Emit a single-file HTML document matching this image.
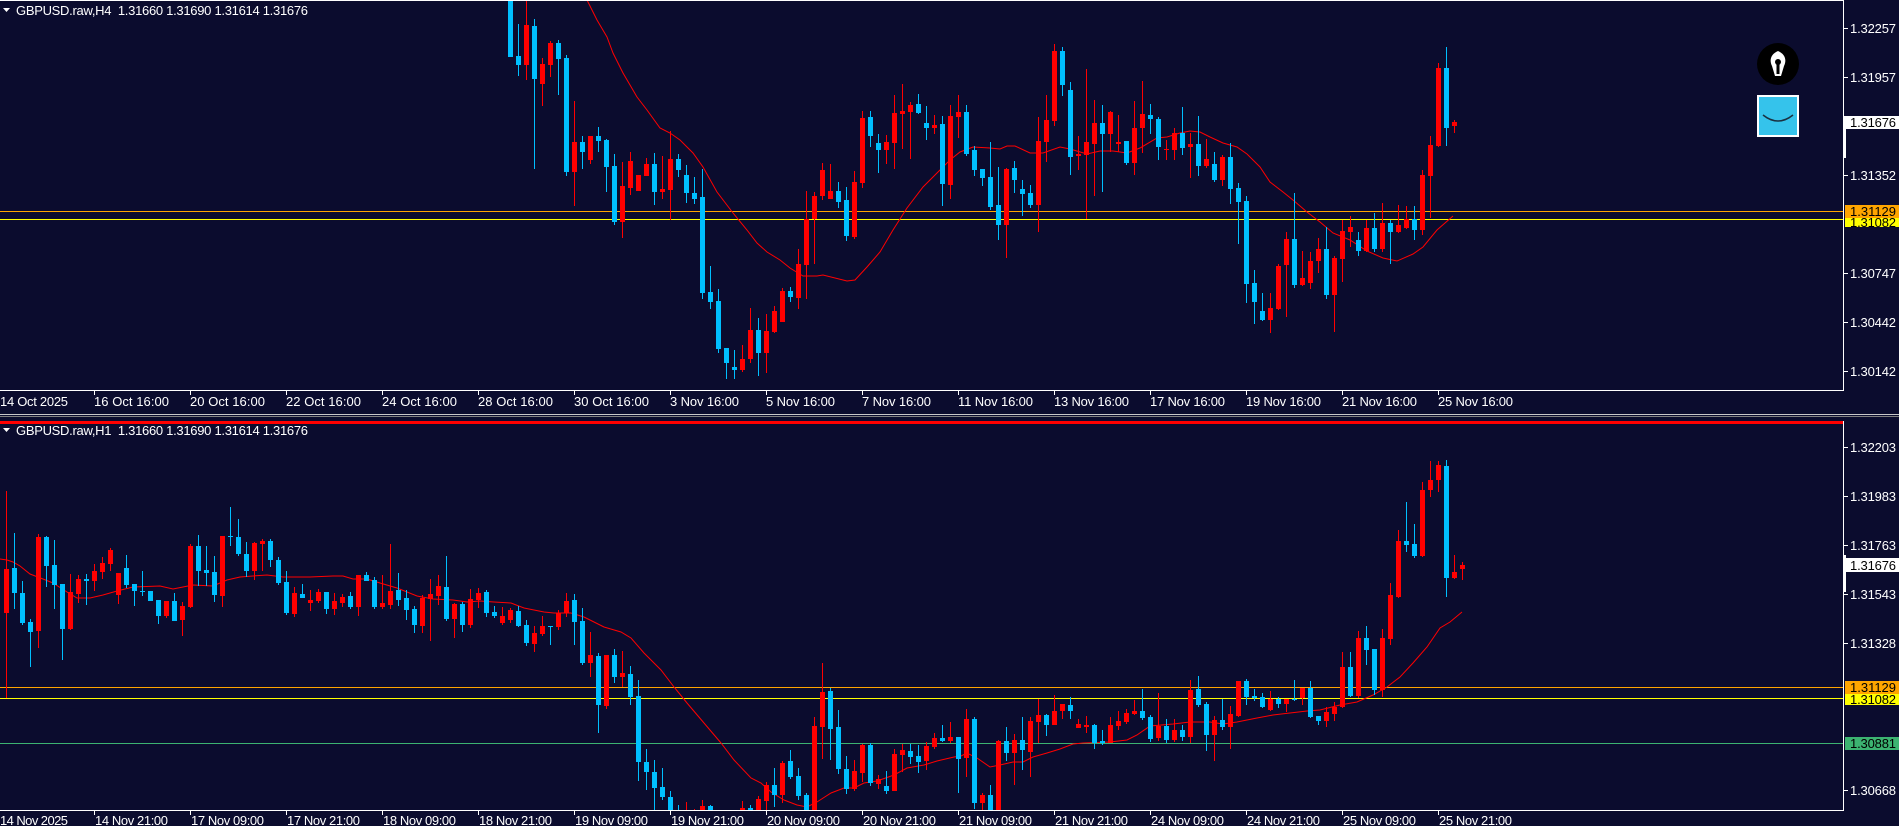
<!DOCTYPE html>
<html><head><meta charset="utf-8">
<style>
html,body{margin:0;padding:0;background:#0b0c2e;overflow:hidden}
svg{display:block}
text{font-family:"Liberation Sans",sans-serif;font-size:13px;fill:#ffffff}
</style></head>
<body>
<svg id="s" width="1899" height="826" xmlns="http://www.w3.org/2000/svg">
<rect x="0" y="0" width="1899" height="826" fill="#0b0c2e"/>
<defs>
<clipPath id="c1"><rect x="0" y="1" width="1843" height="389"/></clipPath>
<clipPath id="c2"><rect x="0" y="424" width="1843" height="386"/></clipPath>
</defs>
<rect x="0" y="0" width="1843" height="1" fill="#ffffff"/>
<rect x="0" y="390" width="1844" height="1" fill="#ffffff"/>
<rect x="1843" y="0" width="1" height="391" fill="#ffffff"/>
<rect x="0" y="414" width="1899" height="1" fill="#c8c8c8"/>
<rect x="0" y="416" width="1899" height="1" fill="#808080"/>
<rect x="0" y="421" width="1843" height="3" fill="#ff0000"/>
<rect x="1843" y="421" width="1" height="390" fill="#ffffff"/>
<rect x="0" y="810" width="1844" height="1" fill="#ffffff"/>

<rect x="0" y="211" width="1843" height="1" fill="#ffa500"/>
<rect x="0" y="219" width="1843" height="1" fill="#ffff00"/>
<rect x="0" y="687" width="1843" height="1" fill="#ffa500"/>
<rect x="0" y="698" width="1843" height="1" fill="#ffff00"/>
<rect x="0" y="743" width="1843" height="1" fill="#3cb371"/>

<g id="g1" clip-path="url(#c1)"></g>
<g id="g2" clip-path="url(#c2)"></g>

<polygon points="3,8 10,8 6.5,12" fill="#ffffff"/>
<text x="16" y="15" textLength="292">GBPUSD.raw,H4&#160;&#160;1.31660 1.31690 1.31614 1.31676</text>
<polygon points="3,428 10,428 6.5,432" fill="#ffffff"/>
<text x="16" y="435" textLength="292">GBPUSD.raw,H1&#160;&#160;1.31660 1.31690 1.31614 1.31676</text>

<g fill="#ffffff">
<rect x="1844" y="28" width="4" height="1"/><rect x="1844" y="77" width="4" height="1"/>
<rect x="1844" y="175" width="4" height="1"/><rect x="1844" y="273" width="4" height="1"/>
<rect x="1844" y="322" width="4" height="1"/><rect x="1844" y="371" width="4" height="1"/>
<rect x="1844" y="447" width="4" height="1"/><rect x="1844" y="496" width="4" height="1"/>
<rect x="1844" y="545" width="4" height="1"/><rect x="1844" y="594" width="4" height="1"/>
<rect x="1844" y="643" width="4" height="1"/><rect x="1844" y="790" width="4" height="1"/>
</g>
<text x="1850" y="33" textLength="46">1.32257</text>
<text x="1850" y="82" textLength="46">1.31957</text>
<text x="1850" y="180" textLength="46">1.31352</text>
<text x="1850" y="278" textLength="46">1.30747</text>
<text x="1850" y="327" textLength="46">1.30442</text>
<text x="1850" y="376" textLength="46">1.30142</text>
<rect x="1843" y="116" width="56" height="13" fill="#ffffff"/>
<rect x="1843" y="116" width="3" height="42" fill="#ffffff"/>
<text x="1850" y="127" textLength="46" style="fill:#000">1.31676</text>
<rect x="1845" y="205" width="54" height="13" fill="#ffa500"/>
<text x="1850" y="216" textLength="46" style="fill:#000">1.31129</text>
<rect x="1845" y="218" width="54" height="9" fill="#ffff00"/>
<text x="1850" y="227" textLength="46" style="fill:#000">1.31082</text>

<text x="1850" y="452" textLength="46">1.32203</text>
<text x="1850" y="501" textLength="46">1.31983</text>
<text x="1850" y="550" textLength="46">1.31763</text>
<text x="1850" y="599" textLength="46">1.31543</text>
<text x="1850" y="648" textLength="46">1.31328</text>
<text x="1850" y="795" textLength="46">1.30668</text>
<rect x="1843" y="558" width="56" height="14" fill="#ffffff"/>
<rect x="1843" y="555" width="3" height="37" fill="#ffffff"/>
<text x="1850" y="570" textLength="46" style="fill:#000">1.31676</text>
<rect x="1845" y="681" width="54" height="13" fill="#ffa500"/>
<text x="1850" y="692" textLength="46" style="fill:#000">1.31129</text>
<rect x="1845" y="694" width="54" height="11" fill="#ffff00"/>
<text x="1850" y="704" textLength="46" style="fill:#000">1.31082</text>
<rect x="1845" y="737" width="54" height="13" fill="#3cb371"/>
<text x="1850" y="748" textLength="46" style="fill:#000">1.30881</text>

<g fill="#ffffff">
<rect x="94" y="391" width="1" height="4"/><rect x="190" y="391" width="1" height="4"/><rect x="286" y="391" width="1" height="4"/><rect x="382" y="391" width="1" height="4"/><rect x="478" y="391" width="1" height="4"/><rect x="574" y="391" width="1" height="4"/><rect x="670" y="391" width="1" height="4"/><rect x="766" y="391" width="1" height="4"/><rect x="862" y="391" width="1" height="4"/><rect x="958" y="391" width="1" height="4"/><rect x="1054" y="391" width="1" height="4"/><rect x="1150" y="391" width="1" height="4"/><rect x="1246" y="391" width="1" height="4"/><rect x="1342" y="391" width="1" height="4"/><rect x="1438" y="391" width="1" height="4"/>
</g>
<text x="0" y="406" textLength="68">14 Oct 2025</text>
<text x="94" y="406" textLength="75">16 Oct 16:00</text>
<text x="190" y="406" textLength="75">20 Oct 16:00</text>
<text x="286" y="406" textLength="75">22 Oct 16:00</text>
<text x="382" y="406" textLength="75">24 Oct 16:00</text>
<text x="478" y="406" textLength="75">28 Oct 16:00</text>
<text x="574" y="406" textLength="75">30 Oct 16:00</text>
<text x="670" y="406" textLength="69">3 Nov 16:00</text>
<text x="766" y="406" textLength="69">5 Nov 16:00</text>
<text x="862" y="406" textLength="69">7 Nov 16:00</text>
<text x="958" y="406" textLength="75">11 Nov 16:00</text>
<text x="1054" y="406" textLength="75">13 Nov 16:00</text>
<text x="1150" y="406" textLength="75">17 Nov 16:00</text>
<text x="1246" y="406" textLength="75">19 Nov 16:00</text>
<text x="1342" y="406" textLength="75">21 Nov 16:00</text>
<text x="1438" y="406" textLength="75">25 Nov 16:00</text>

<g fill="#ffffff">
<rect x="94" y="811" width="1" height="4"/><rect x="190" y="811" width="1" height="4"/><rect x="286" y="811" width="1" height="4"/><rect x="382" y="811" width="1" height="4"/><rect x="478" y="811" width="1" height="4"/><rect x="574" y="811" width="1" height="4"/><rect x="670" y="811" width="1" height="4"/><rect x="766" y="811" width="1" height="4"/><rect x="862" y="811" width="1" height="4"/><rect x="958" y="811" width="1" height="4"/><rect x="1054" y="811" width="1" height="4"/><rect x="1150" y="811" width="1" height="4"/><rect x="1246" y="811" width="1" height="4"/><rect x="1342" y="811" width="1" height="4"/><rect x="1438" y="811" width="1" height="4"/>
</g>
<text x="0" y="825" textLength="68">14 Nov 2025</text>
<text x="95" y="825" textLength="73">14 Nov 21:00</text>
<text x="191" y="825" textLength="73">17 Nov 09:00</text>
<text x="287" y="825" textLength="73">17 Nov 21:00</text>
<text x="383" y="825" textLength="73">18 Nov 09:00</text>
<text x="479" y="825" textLength="73">18 Nov 21:00</text>
<text x="575" y="825" textLength="73">19 Nov 09:00</text>
<text x="671" y="825" textLength="73">19 Nov 21:00</text>
<text x="767" y="825" textLength="73">20 Nov 09:00</text>
<text x="863" y="825" textLength="73">20 Nov 21:00</text>
<text x="959" y="825" textLength="73">21 Nov 09:00</text>
<text x="1055" y="825" textLength="73">21 Nov 21:00</text>
<text x="1151" y="825" textLength="73">24 Nov 09:00</text>
<text x="1247" y="825" textLength="73">24 Nov 21:00</text>
<text x="1343" y="825" textLength="73">25 Nov 09:00</text>
<text x="1439" y="825" textLength="73">25 Nov 21:00</text>

<circle cx="1778" cy="64" r="21" fill="#000000"/>
<path d="M1778 51 C1771 54 1769 60 1772 66 L1775 76 L1781 76 L1784 66 C1787 60 1785 54 1778 51 Z" fill="#ffffff"/>
<circle cx="1778" cy="62" r="3" fill="#000000"/>
<rect x="1776.5" y="62" width="3" height="12" fill="#000000"/>
<rect x="1757" y="95" width="42" height="42" fill="#ffffff"/>
<rect x="1759" y="97" width="38" height="38" fill="#35c3eb"/>
<path d="M1763 115 Q1778 127 1793 115" stroke="#1a3040" stroke-width="1.5" fill="none"/>
</svg>
<script>
var T=[
0,0,57,-5,57, 0,56,65,24,76, 1,25,65,0,80, 0,26,79,19,169, 1,64,84,58,106, 1,43,65,41,77, 0,43,59,40,95, 0,58,172,55,176, 1,142,172,101,206, 0,142,152,136,169,
1,136,160,136,164, 0,136,141,127,152, 0,140,167,139,192, 0,166,222,154,225, 1,186,222,162,238, 1,161,188,152,195, 1,175,191,175,191, 1,164,176,158,176, 0,164,192,153,205, 1,189,192,156,199,
1,159,190,131,220, 0,159,170,154,177, 0,175,193,165,203, 0,193,199,177,204, 0,197,293,169,299, 0,292,302,266,309, 0,301,349,289,353, 0,348,363,348,379, 0,367,370,350,379, 1,359,370,345,372,
1,330,359,308,363, 0,330,353,318,376, 1,331,353,314,373, 1,311,332,306,333, 1,291,322,288,322, 0,291,297,287,302, 1,264,298,249,309, 1,219,265,191,299, 1,196,219,192,264, 1,170,196,163,200,
1,191,199,164,199, 0,191,202,182,208, 0,200,236,187,241, 1,182,237,171,239, 1,118,183,111,188, 0,117,136,111,147, 0,143,150,134,173, 1,142,150,135,164, 1,113,143,95,169, 1,111,114,84,149,
1,105,112,102,159, 0,104,113,94,114, 0,123,128,106,140, 1,125,128,115,134, 0,124,184,116,206, 1,116,185,105,199, 1,112,117,95,138, 0,112,154,105,156, 0,150,170,146,176, 0,169,178,169,186,
0,177,207,142,210, 0,205,225,167,240, 1,169,225,168,258, 0,168,180,161,193, 0,189,194,180,216, 0,193,205,185,208, 1,141,205,117,232, 1,120,142,95,162, 1,51,121,44,126, 0,51,85,47,96,
0,90,157,82,175, 1,154,156,136,170, 1,142,155,69,219, 1,123,144,100,196, 0,123,134,105,192, 1,112,134,111,152, 1,142,144,115,152, 0,141,163,141,165, 1,128,163,101,175, 1,114,128,81,153,
0,115,119,104,134, 0,119,147,117,160, 1,149,150,140,160, 1,133,150,128,160, 0,133,148,107,155, 1,144,147,133,178, 0,144,166,116,176, 1,159,166,139,168, 0,164,180,152,182, 1,157,180,155,186,
0,157,189,143,204, 0,188,202,183,244, 0,201,284,196,303, 0,283,302,270,324, 0,311,320,293,321, 1,308,320,293,333, 1,266,309,264,310, 1,239,265,232,317, 0,239,285,193,288, 1,278,285,251,286,
1,261,283,252,289, 1,249,261,238,273, 0,249,295,227,299, 1,258,295,256,332, 1,231,259,220,282, 1,227,232,216,247, 0,240,251,232,256, 1,228,251,220,252, 0,228,249,213,252, 1,223,249,203,252,
0,223,232,220,264, 1,225,232,205,233, 1,219,228,206,229, 0,219,230,206,240, 1,175,230,170,235, 1,145,176,136,218, 1,68,146,63,147, 0,68,128,47,146, 1,122,126,120,133];
var B=[
1,569,613,491,698, 0,568,593,533,609, 0,593,623,581,625, 0,622,632,619,667, 1,537,631,534,648, 0,537,566,536,587, 0,565,585,540,609, 0,584,629,584,660, 1,592,629,574,630, 1,579,594,575,603,
0,579,581,574,605, 1,571,581,564,591, 1,563,572,557,579, 1,550,564,548,571, 1,573,595,573,604, 0,568,585,555,588, 0,584,591,584,606, 0,591,592,571,596, 0,591,601,591,601, 0,600,616,600,624,
1,601,616,601,618, 0,601,621,593,621, 1,606,620,602,636, 1,546,607,544,608, 0,546,571,535,586, 0,570,573,546,586, 0,572,595,556,602, 1,536,596,536,607, 0,536,537,507,546, 0,537,554,519,556,
0,554,571,542,577, 1,543,571,542,580, 1,541,544,539,571, 0,541,560,539,567, 0,560,583,557,585, 0,582,613,571,615, 1,593,614,587,617, 0,594,598,584,598, 1,600,603,590,611, 1,592,601,589,603,
0,592,609,592,614, 1,601,609,593,615, 1,597,603,594,607, 0,596,607,592,609, 1,575,607,575,616, 0,575,581,572,581, 0,580,607,577,609, 1,603,607,575,609, 1,591,605,544,609, 0,590,600,573,606,
0,598,610,590,620, 0,609,625,606,633, 1,598,626,595,633, 1,594,599,579,641, 1,586,596,575,605, 0,587,619,556,621, 1,604,619,603,638, 0,604,625,602,632, 1,599,625,589,628, 1,593,600,588,608,
0,592,613,590,617, 0,612,616,606,618,
1,616,623,607,625, 1,610,620,608,623, 0,611,626,606,627, 0,625,643,620,646, 1,633,644,626,652, 1,626,634,616,636, 0,626,627,626,645, 1,613,627,610,630, 1,601,613,593,617, 0,600,622,594,645,
0,621,663,608,665, 1,655,663,632,677, 0,656,705,653,733, 1,655,706,655,709, 0,655,677,649,683, 1,673,677,651,687, 0,674,697,666,705, 0,696,762,680,781, 0,762,772,749,790, 0,772,788,760,810,
0,787,797,768,800, 0,797,812,791,815, 0,812,830,805,840, 1,815,825,802,832, 1,812,818,809,826, 1,806,815,800,820, 0,806,816,805,822, 0,815,828,812,834, 0,825,840,818,845, 1,820,832,815,840,
1,808,820,801,825, 0,808,815,805,820, 1,799,812,796,818, 1,785,801,782,812, 0,785,795,768,807, 1,763,795,761,803, 0,761,777,750,779, 0,776,796,768,800, 0,795,812,793,820, 1,726,812,717,818,
1,692,727,663,759, 0,691,729,688,760, 0,727,769,710,774, 0,769,789,756,794, 1,771,789,760,791, 1,745,773,744,782, 0,745,783,743,786, 1,779,784,775,789, 0,786,791,771,794, 1,754,791,749,791,
1,750,755,744,772, 0,751,757,744,764, 0,756,762,745,773, 1,746,761,742,770, 1,738,747,733,749, 0,738,741,725,742, 1,737,741,722,743, 0,737,759,737,793, 1,719,758,709,777, 0,719,803,717,809,
1,795,803,793,815, 0,795,812,785,818,
1,741,812,740,815, 0,741,753,727,761, 1,740,753,734,785, 0,740,750,717,770, 1,721,752,717,777, 1,715,722,699,743, 0,715,725,714,736, 1,711,725,695,725, 1,704,711,704,719, 0,705,711,697,719,
1,724,728,719,728, 1,725,727,716,733, 0,725,743,724,749, 0,741,743,730,745, 1,725,743,717,743, 1,721,726,711,730, 1,713,722,709,724, 1,711,714,700,715, 0,711,718,689,720, 0,717,739,715,742,
1,726,738,693,741, 0,726,740,719,743, 1,730,740,719,742, 0,730,737,725,741, 1,690,737,680,743, 0,689,705,676,707, 0,704,735,702,751, 1,720,735,716,761, 0,720,727,699,730, 1,714,727,706,749,
1,681,716,681,717, 0,681,697,679,705, 0,696,698,689,701, 0,697,707,693,708, 1,699,710,691,711, 0,699,704,697,708, 1,699,704,699,712, 0,699,700,680,701, 1,688,698,688,705, 0,688,717,681,718,
0,716,721,716,725, 1,712,721,707,727, 1,707,714,702,721, 1,667,707,652,708, 0,667,696,652,697, 1,638,696,631,698, 0,638,650,626,665, 0,649,690,649,695, 1,638,690,629,697, 1,595,639,583,645,
1,541,597,530,598, 0,541,545,502,552, 0,544,556,524,558, 1,490,556,482,557, 1,480,490,461,497, 1,465,480,461,492, 0,466,578,460,597, 1,572,578,555,579, 1,565,569,562,580];
var M1=[[587,0],[597,20],[607,37],[613,53],[623,73],[637,97],[647,110],[660,128],[670,133],[680,140],[693,153],[703,167],[717,192],[733,213],[747,230],[757,243],[767,252],[780,260],[790,268],[803,276],[817,276],[823,275],[847,281],[855,280],[867,267],[880,252],[893,230],[907,208],[923,187],[940,170],[950,160],[960,152],[973,147],[990,148],[1000,149],[1007,146],[1015,146],[1030,153],[1043,153],[1060,147],[1070,149],[1087,154],[1100,151],[1113,151],[1127,153],[1140,148],[1157,138],[1167,137],[1180,133],[1190,131],[1200,132],[1210,137],[1223,143],[1237,147],[1247,154],[1260,167],[1270,182],[1283,192],[1293,200],[1307,212],[1320,222],[1333,233],[1350,240],[1367,251],[1383,258],[1397,261],[1413,254],[1423,247],[1437,230],[1453,216]];
var M2=[[0,559],[7,560],[13,562],[20,566],[30,574],[43,579],[53,583],[67,592],[77,598],[90,598],[103,595],[117,591],[133,587],[160,586],[173,589],[183,587],[193,585],[213,586],[227,580],[240,577],[253,576],[267,575],[283,577],[310,577],[333,576],[343,576],[353,579],[367,579],[380,583],[397,588],[417,596],[433,599],[453,600],[467,602],[480,601],[494,602],[511,603],[524,608],[544,612],[554,613],[571,613],[584,617],[594,622],[604,627],[621,632],[631,638],[644,653],[661,670],[674,687],[687,703],[704,723],[721,743],[734,760],[751,778],[761,783],[771,792],[784,800],[797,805],[807,807],[817,802],[831,793],[844,788],[854,788],[864,783],[877,781],[894,775],[907,768],[924,765],[937,761],[954,757],[961,756],[967,753],[977,758],[990,767],[1000,765],[1013,762],[1023,762],[1033,757],[1047,753],[1060,749],[1073,744],[1083,743],[1110,742],[1127,740],[1137,735],[1150,726],[1173,724],[1190,722],[1210,722],[1223,724],[1237,722],[1257,718],[1273,715],[1290,713],[1307,711],[1320,710],[1340,705],[1357,702],[1373,695],[1387,687],[1400,677],[1413,663],[1427,647],[1440,628],[1450,622],[1462,612]];
var NS="http://www.w3.org/2000/svg";
function r(g,x,y,w,h,c){var e=document.createElementNS(NS,"rect");e.setAttribute("x",x);e.setAttribute("y",y);e.setAttribute("width",w);e.setAttribute("height",Math.max(1,h));e.setAttribute("fill",c);g.appendChild(e);}
function draw(g,D,x0){for(var i=0;i*5<D.length;i++){var k=i*5,c=D[k]?"#ff0000":"#00bfff",x=x0+8*i;r(g,x,D[k+3],1,D[k+4]-D[k+3],c);r(g,x-2,D[k+1],5,D[k+2]-D[k+1],c);}}
function line(g,P){var e=document.createElementNS(NS,"polyline");e.setAttribute("points",P.map(function(p){return p.join(",")}).join(" "));e.setAttribute("fill","none");e.setAttribute("stroke","#ff0000");e.setAttribute("stroke-width","1");g.appendChild(e);}
var g1=document.getElementById("g1"),g2=document.getElementById("g2");
line(g1,M1);draw(g1,T,510);
line(g2,M2);draw(g2,B,6);
</script>
</body></html>
